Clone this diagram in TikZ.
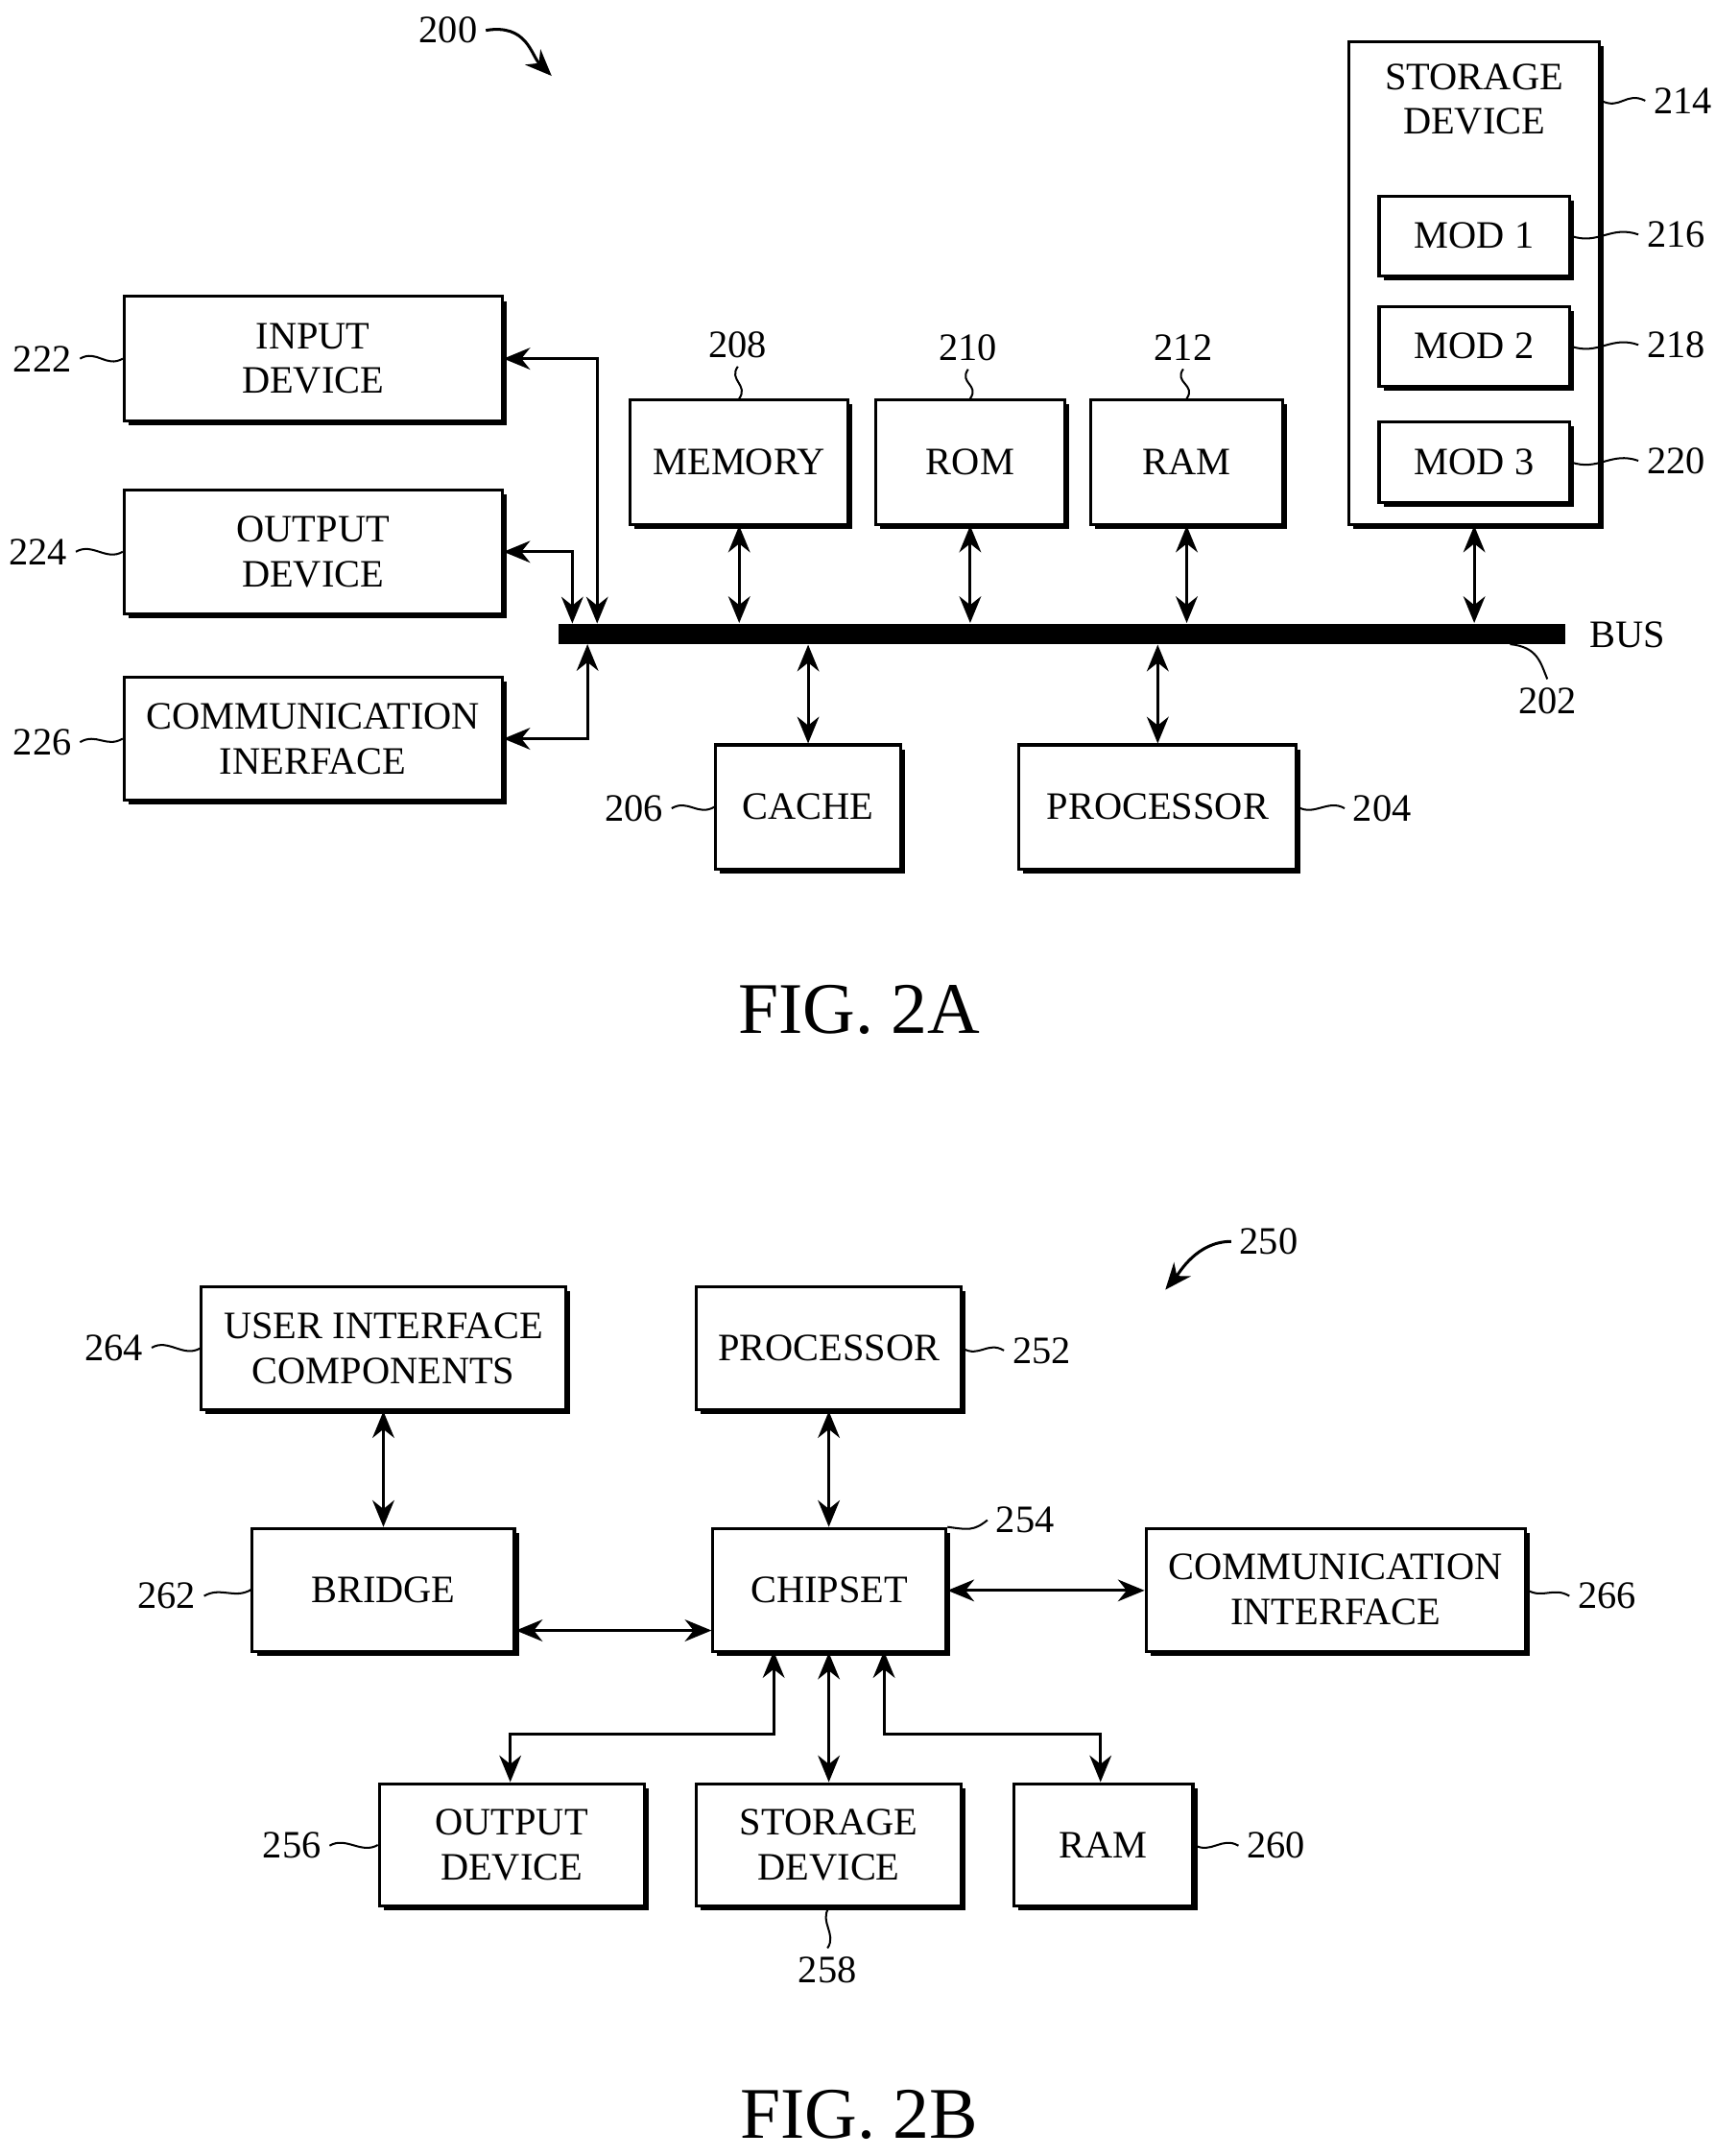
\documentclass[tikz,border=0pt]{standalone}
\usepackage{fontspec}
\setmainfont{Liberation Serif}
\usetikzlibrary{arrows.meta,fit,shadows}
\newcommand{\bx}[3]{\node[box,fit={#2}] (#1) {}; \node[align=center] (#1t) at (#1.center) {#3};}
\begin{document}
\begin{tikzpicture}[x=0.02cm,y=-0.02cm,font=\fontsize{16}{18.5}\selectfont,
 box/.style={draw,line width=1.2pt,inner sep=0,fill=white,
   drop shadow={shadow xshift=1.8pt,shadow yshift=-1.8pt,fill=black,opacity=1}},
 arr/.style={line width=1.2pt,{Stealth[length=11pt,width=9pt]}-{Stealth[length=11pt,width=9pt]}},
 ld/.style={line width=0.8pt},
 fig/.style={font=\fontsize{30}{34}\selectfont}]
\useasboundingbox (0,0) rectangle (1243,1563);
% FIG 2A
\bx{in}{(90,215)(364,305)}{INPUT\\DEVICE}
\bx{out}{(90,355)(364,445)}{OUTPUT\\DEVICE}
\bx{com}{(90,491)(364,580)}{COMMUNICATION\\INERFACE}
\bx{mem}{(457,290)(615,380)}{MEMORY}
\bx{rom}{(635,290)(772,380)}{ROM}
\bx{ram}{(791,290)(930,380)}{RAM}
\node[box,fit={(978,30)(1160,380)}] (sto) {};
\node[align=center] (stot) at (1069,72) {STORAGE\\DEVICE};
\bx{m1}{(1000,142)(1138,200)}{MOD 1}
\bx{m2}{(1000,222)(1138,280)}{MOD 2}
\bx{m3}{(1000,306)(1138,364)}{MOD 3}
\node[fill=black,inner sep=0,fit={(405,452)(1135,467)}] (bus) {};
\bx{cache}{(519,540)(653,630)}{CACHE}
\bx{proc}{(739,540)(940,630)}{PROCESSOR}
\coordinate (bi) at (433,452); \coordinate (bo) at (415,452); \coordinate (bc) at (426,467);
\draw[arr] (in.east) -| (bi);
\draw[arr] (out.east) -| (bo);
\draw[arr] (com.east) -| (bc);
\foreach \n in {mem,rom,ram} \draw[arr] (\n.south) -- (\n.south |- bus.north);
\draw[arr] (sto.south) -- (sto.south |- bus.north);
\draw[arr] (cache.north) -- (cache.north |- bus.south);
\draw[arr] (proc.north) -- (proc.north |- bus.south);
\node[anchor=east] (l222) at (58,260) {222};
\node[anchor=east] (l224) at (55,400) {224};
\node[anchor=east] (l226) at (58,538) {226};
\draw[ld] (l222.east) .. controls +(12,-7) and +(-12,7) .. (in.west);
\draw[ld] (l224.east) .. controls +(12,-7) and +(-12,7) .. (out.west);
\draw[ld] (l226.east) .. controls +(12,-7) and +(-12,7) .. (com.west);
\node (l208) at (535,250) {208}; \node (l210) at (702,252) {210}; \node (l212) at (858,252) {212};
\draw[ld] (l208.south) .. controls +(-7,10) and +(7,-10) .. (mem.north);
\draw[ld] (l210.south) .. controls +(-7,10) and +(7,-10) .. (rom.north);
\draw[ld] (l212.south) .. controls +(-7,10) and +(7,-10) .. (ram.north);
\node[anchor=west] (l214) at (1193,73) {214};
\node[anchor=west] (l216) at (1188,170) {216};
\node[anchor=west] (l218) at (1188,250) {218};
\node[anchor=west] (l220) at (1188,334) {220};
\draw[ld] (sto.east |- l214) .. controls +(14,7) and +(-14,-7) .. (l214.west);
\draw[ld] (m1.east) .. controls +(20,7) and +(-20,-7) .. (l216.west);
\draw[ld] (m2.east) .. controls +(20,7) and +(-20,-7) .. (l218.west);
\draw[ld] (m3.east) .. controls +(20,7) and +(-20,-7) .. (l220.west);
\node (lbus) at (1180,460) {BUS};
\node (l202) at (1122,508) {202};
\coordinate (b202) at (1095,467);
\draw[ld] (b202) .. controls +(20,2) and +(-5,-12) .. (l202.north);
\node[anchor=east] (l206) at (487,586) {206};
\node[anchor=west] (l204) at (975,586) {204};
\draw[ld] (l206.east) .. controls +(12,-7) and +(-12,7) .. (cache.west);
\draw[ld] (proc.east) .. controls +(12,7) and +(-12,-7) .. (l204.west);
\node (l200) at (325,22) {200};
\coordinate (a200) at (400,55);
\draw[line width=1.2pt,-{Stealth[length=11pt,width=9pt]}] (l200.east) .. controls +(30,-5) and +(-15,-15) .. (a200);
\node[fig] (f2a) at (623,732) {FIG. 2A};
% FIG 2B
\bx{ui}{(146,933)(410,1022)}{USER INTERFACE\\COMPONENTS}
\bx{pr}{(505,933)(697,1022)}{PROCESSOR}
\bx{br}{(183,1108)(373,1197)}{BRIDGE}
\bx{ch}{(517,1108)(686,1197)}{CHIPSET}
\bx{ci}{(831,1108)(1106,1197)}{COMMUNICATION\\INTERFACE}
\bx{od}{(275,1293)(467,1382)}{OUTPUT\\DEVICE}
\bx{sd}{(505,1293)(697,1382)}{STORAGE\\DEVICE}
\bx{rm}{(735,1293)(865,1382)}{RAM}
\draw[arr] (ui.south -| 278,0) -- (br.north -| 278,0);
\draw[arr] (pr.south) -- (ch.north -| pr.south);
\draw[arr] (br.east |- 0,1182) -- (ch.west |- 0,1182);
\draw[arr] (ch.east |- 0,1153) -- (ci.west |- 0,1153);
\coordinate (c1) at (561,1197); \coordinate (c3) at (641,1197);
\draw[arr] (c1) |- (370,1257) -- (od.north -| 370,0);
\draw[arr] (ch.south -| sd.north) -- (sd.north);
\draw[arr] (c3) |- (798,1257) -- (rm.north -| 798,0);
\node (l250) at (920,900) {250};
\coordinate (a250) at (845,935);
\draw[line width=1.2pt,-{Stealth[length=11pt,width=9pt]}] (l250.west) .. controls +(-25,0) and +(10,-12) .. (a250);
\node[anchor=east] (l264) at (110,977) {264};
\node[anchor=west] (l252) at (728,979) {252};
\node[anchor=west] (l254) at (716,1102) {254};
\node[anchor=east] (l262) at (148,1157) {262};
\node[anchor=west] (l266) at (1138,1157) {266};
\node[anchor=east] (l256) at (239,1338) {256};
\node[anchor=west] (l260) at (898,1338) {260};
\node (l258) at (600,1428) {258};
\draw[ld] (l264.east) .. controls +(12,-7) and +(-12,7) .. (ui.west);
\draw[ld] (pr.east) .. controls +(12,7) and +(-12,-7) .. (l252.west);
\draw[ld] (ch.north east) .. controls +(15,2) and +(-10,8) .. (l254.west);
\draw[ld] (l262.east) .. controls +(12,-7) and +(-12,7) .. (br.west);
\draw[ld] (ci.east) .. controls +(12,7) and +(-12,-7) .. (l266.west);
\draw[ld] (l256.east) .. controls +(12,-7) and +(-12,7) .. (od.west);
\draw[ld] (rm.east) .. controls +(12,7) and +(-12,-7) .. (l260.west);
\draw[ld] (sd.south) .. controls +(-7,10) and +(7,-10) .. (l258.north);
\node[fig] (f2b) at (623,1533) {FIG. 2B};
\end{tikzpicture}
\end{document}
